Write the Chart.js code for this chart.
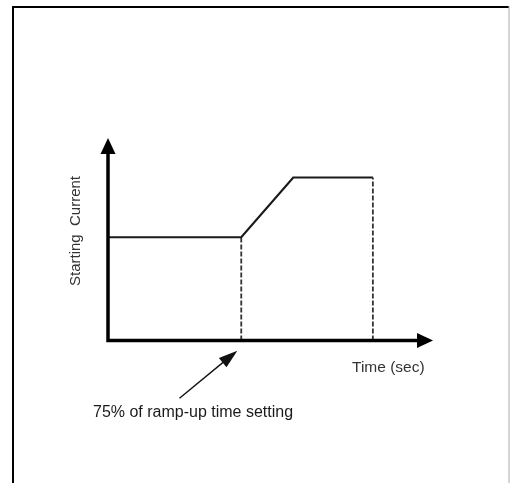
<!DOCTYPE html>
<html>
<head>
<meta charset="utf-8">
<script src="https://cdn.jsdelivr.net/npm/chart.js@4"></script>
<style>
  html, body { margin: 0; padding: 0; background: #fff; }
  #wrap { position: relative; width: 510px; height: 483px; }
</style>
</head>
<body>
<div id="wrap"><canvas id="chart" width="510" height="483"></canvas></div>
<script>
// valores (unidades arbitrárias de tempo / corrente)
const tempoCurva = [0, 4.1, 5.7, 8.15];
const correnteCurva = [5.1, 5.1, 8.05, 8.05];
const tempoMarcas = [4.1, 8.15];
const correnteMarcas = [5.1, 8.05];
const limiteX = 10;
const limiteY = 10;

const tituloX = 'Time (sec)';
const tituloY = 'Starting  Current';
const notaTexto = '75% of ramp-up time setting';
// seta da nota: cauda e ponta, em unidades dos eixos
const notaCauda = { x: 2.2, y: -2.85 };
const notaPonta = { x: 3.98, y: -0.5 };

const curva = tempoCurva.map((t, i) => ({ x: t, y: correnteCurva[i] }));
const tracejados = tempoMarcas.map((t, i) => ({
    data: [{ x: t, y: 0 }, { x: t, y: correnteMarcas[i] }],
    borderColor: '#333',
    borderWidth: 1.8,
    borderDash: [5, 2],
    pointRadius: 0,
    clip: false
}));

function seta(ctx, x1, y1, x2, y2, comp, larg) {
    const ang = Math.atan2(y2 - y1, x2 - x1);
    ctx.beginPath();
    ctx.moveTo(x2, y2);
    ctx.lineTo(x2 - comp * Math.cos(ang) + larg / 2 * Math.sin(ang),
               y2 - comp * Math.sin(ang) - larg / 2 * Math.cos(ang));
    ctx.lineTo(x2 - comp * Math.cos(ang) - larg / 2 * Math.sin(ang),
               y2 - comp * Math.sin(ang) + larg / 2 * Math.cos(ang));
    ctx.closePath();
    ctx.fill();
}

const desenhoExtra = {
    id: 'desenhoExtra',
    afterDatasetsDraw(chart) {
        const ctx = chart.ctx;
        const sx = chart.scales.x, sy = chart.scales.y;
        const x0 = sx.getPixelForValue(0), y0 = sy.getPixelForValue(0);
        const xMax = sx.getPixelForValue(limiteX), yMax = sy.getPixelForValue(limiteY);
        ctx.save();

        // moldura
        ctx.fillStyle = '#000';
        ctx.fillRect(12, 6, 2, 477);
        ctx.fillRect(12, 6, 497, 2);
        ctx.fillStyle = '#aaa';
        ctx.fillRect(508.5, 6, 1, 477);

        // eixos
        ctx.strokeStyle = '#000';
        ctx.fillStyle = '#000';
        ctx.lineWidth = 3.5;
        ctx.lineCap = 'butt';
        ctx.beginPath();
        ctx.moveTo(x0, yMax + 12);
        ctx.lineTo(x0, y0);
        ctx.lineTo(xMax - 12, y0);
        ctx.stroke();
        seta(ctx, x0, y0, x0, yMax, 16, 15);
        seta(ctx, x0, y0, xMax, y0, 16, 15);

        // nota
        const cx = sx.getPixelForValue(notaCauda.x), cy = sy.getPixelForValue(notaCauda.y);
        const px = sx.getPixelForValue(notaPonta.x), py = sy.getPixelForValue(notaPonta.y);
        ctx.fillStyle = '#111';
        ctx.strokeStyle = '#111';
        ctx.lineWidth = 1.4;
        ctx.beginPath();
        ctx.moveTo(cx, cy);
        ctx.lineTo(px - (px - cx) * 0.2, py - (py - cy) * 0.2);
        ctx.stroke();
        seta(ctx, cx, cy, px, py, 19, 12);

        // textos
        ctx.fillStyle = '#1a1a1a';
        ctx.font = '16px "Liberation Sans", Arial, sans-serif';
        ctx.textBaseline = 'alphabetic';
        ctx.textAlign = 'left';
        ctx.fillText(notaTexto, 93, 417);
        ctx.fillStyle = '#333';
        ctx.font = '15.5px "Liberation Sans", Arial, sans-serif';
        ctx.fillText(tituloX, 352, 372);
        ctx.save();
        ctx.translate(80, 231);
        ctx.rotate(-Math.PI / 2);
        ctx.textAlign = 'center';
        ctx.font = '15px "Liberation Sans", Arial, sans-serif';
        ctx.fillText(tituloY, 0, 0);
        ctx.restore();

        ctx.restore();
    }
};

new Chart(document.getElementById('chart'), {
    type: 'line',
    data: {
        datasets: [{
            data: curva,
            borderColor: '#1a1a1a',
            borderWidth: 2.2,
            pointRadius: 0,
            tension: 0,
            clip: false
        }, ...tracejados]
    },
    options: {
        responsive: false,
        animation: false,
        layout: { padding: { left: 108, right: 77, top: 138, bottom: 142.5 } },
        plugins: { legend: { display: false }, tooltip: { enabled: false } },
        scales: {
            x: { type: 'linear', min: 0, max: limiteX, display: false },
            y: { type: 'linear', min: 0, max: limiteY, display: false }
        }
    },
    plugins: [desenhoExtra]
});
</script>
</body>
</html>
